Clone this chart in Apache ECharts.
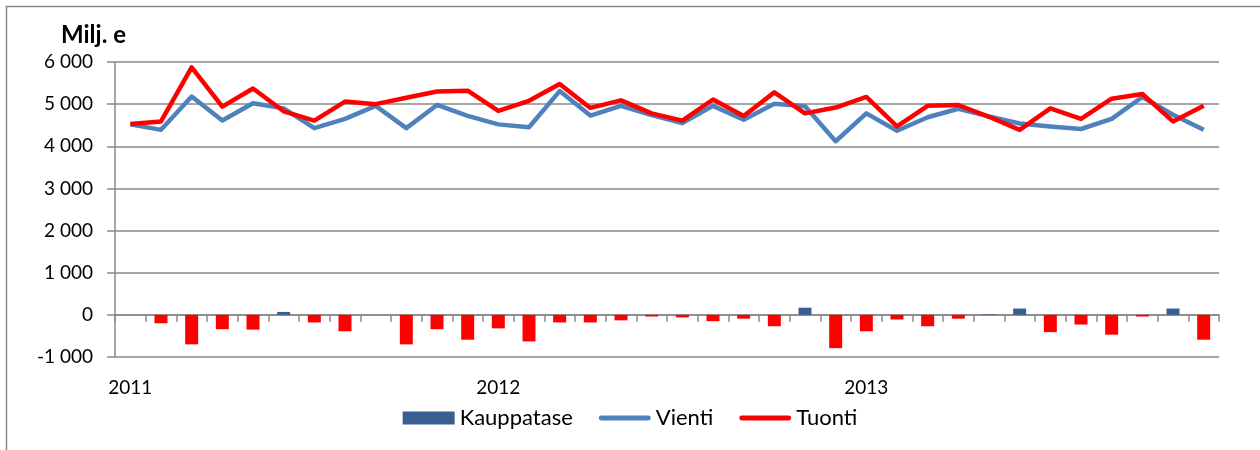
<!DOCTYPE html>
<html>
<head>
<meta charset="utf-8">
<script src="https://cdn.jsdelivr.net/npm/echarts@6/dist/echarts.min.js"></script>
<style>
  html, body { margin: 0; padding: 0; background: #fff; }
  #chart { width: 1260px; height: 450px; }
</style>
</head>
<body>
<div id="chart"></div>
<script>
// monthly data 2011-2013, million euros
var years = ['2011', '2012', '2013'];
var kauppatase = [0, -200, -700, -340, -350, 70, -180, -390, 0, -700, -340, -590,
  -320, -630, -180, -180, -130, -40, -60, -150, -90, -270, 170, -790,
  -390, -110, -270, -90, 15, 150, -410, -230, -470, -40, 150, -590];
var vienti = [4520, 4390, 5180, 4610, 5020, 4900, 4430, 4650, 4960, 4430, 4980, 4720,
  4520, 4450, 5310, 4730, 4960, 4740, 4550, 4960, 4630, 5010, 4950, 4120,
  4780, 4370, 4690, 4890, 4710, 4540, 4470, 4410, 4650, 5170, 4750, 4390];
var tuonti = [4530, 4590, 5870, 4940, 5370, 4830, 4610, 5060, 5000, 5150, 5300, 5320,
  4840, 5080, 5480, 4910, 5090, 4780, 4610, 5110, 4720, 5280, 4780, 4920,
  5170, 4470, 4960, 4980, 4700, 4390, 4900, 4650, 5130, 5240, 4590, 4960];

// one label per month, year shown on january only
var months = [];
years.forEach(function(y) {
  for (var m = 0; m < 12; m++) {
    months.push(m === 0 ? y : '');
  }
});

var font = 'Lato, "Open Sans", sans-serif';
var gridColor = '#888888';
// flat bar used as legend icon for the two lines
var lineIcon = 'path://M2,0 L50,0 A2.5,2.5 0 0 1 50,5 L2,5 A2.5,2.5 0 0 1 2,0 Z';

function fmt(v) {
  var s = String(Math.abs(v));
  s = s.replace(/\B(?=(\d{3})+(?!\d))/g, ' ');
  return (v < 0 ? '-' : '') + s;
}

var chart = echarts.init(document.getElementById('chart'));

chart.setOption({
  animation: false,
  textStyle: { fontFamily: font },
  title: {
    text: 'Milj. e',
    left: 56,
    top: 18,
    textStyle: { fontFamily: font, fontSize: 24, fontWeight: 'bold', color: '#000' }
  },
  graphic: [{
    type: 'rect',
    shape: { x: 6.5, y: 6.5, width: 1300, height: 500 },
    style: { fill: 'none', stroke: '#8a8a8a', lineWidth: 1.5 },
    silent: true
  }],
  legend: {
    bottom: 16,
    left: 'center',
    itemGap: 26,
    itemWidth: 52,
    itemHeight: 13,
    symbolKeepAspect: true,
    textStyle: { fontFamily: font, fontSize: 22, color: '#000' },
    data: [
      { name: 'Kauppatase', icon: 'rect' },
      { name: 'Vienti', icon: lineIcon },
      { name: 'Tuonti', icon: lineIcon }
    ]
  },
  grid: { left: 115, right: 41, top: 62, bottom: 93 },
  xAxis: [{
    type: 'category',
    data: months,
    boundaryGap: true,
    axisLine: { onZero: true, lineStyle: { color: gridColor, width: 1.5 } },
    axisTick: { show: true, interval: 0, length: 7, lineStyle: { color: gridColor, width: 1.5 } },
    axisLabel: { show: false }
  }, {
    type: 'category',
    data: months,
    position: 'bottom',
    boundaryGap: true,
    axisLine: { show: false },
    axisTick: { show: false },
    axisLabel: {
      interval: 0,
      margin: 21,
      fontFamily: font,
      fontSize: 19,
      color: '#000'
    }
  }],
  yAxis: {
    type: 'value',
    min: -1000,
    max: 6000,
    interval: 1000,
    axisLine: { show: true, lineStyle: { color: gridColor, width: 1.5 } },
    axisTick: { show: true, length: 8, lineStyle: { color: gridColor, width: 1.5 } },
    splitLine: { lineStyle: { color: gridColor, width: 1.5 } },
    axisLabel: {
      margin: 22,
      fontFamily: font,
      fontSize: 19,
      color: '#000',
      formatter: fmt
    }
  },
  series: [{
    name: 'Kauppatase',
    type: 'bar',
    barWidth: 13,
    itemStyle: { color: '#375F92' },
    data: kauppatase.map(function(v) {
      return v < 0 ? { value: v, itemStyle: { color: '#FF0000' } } : v;
    })
  }, {
    name: 'Vienti',
    type: 'line',
    symbol: 'none',
    itemStyle: { color: '#4F81BD' },
    lineStyle: { color: '#4F81BD', width: 4.5, join: 'round' },
    data: vienti
  }, {
    name: 'Tuonti',
    type: 'line',
    symbol: 'none',
    itemStyle: { color: '#FF0000' },
    lineStyle: { color: '#FF0000', width: 4.5, join: 'round' },
    data: tuonti
  }]
});
</script>
</body>
</html>
